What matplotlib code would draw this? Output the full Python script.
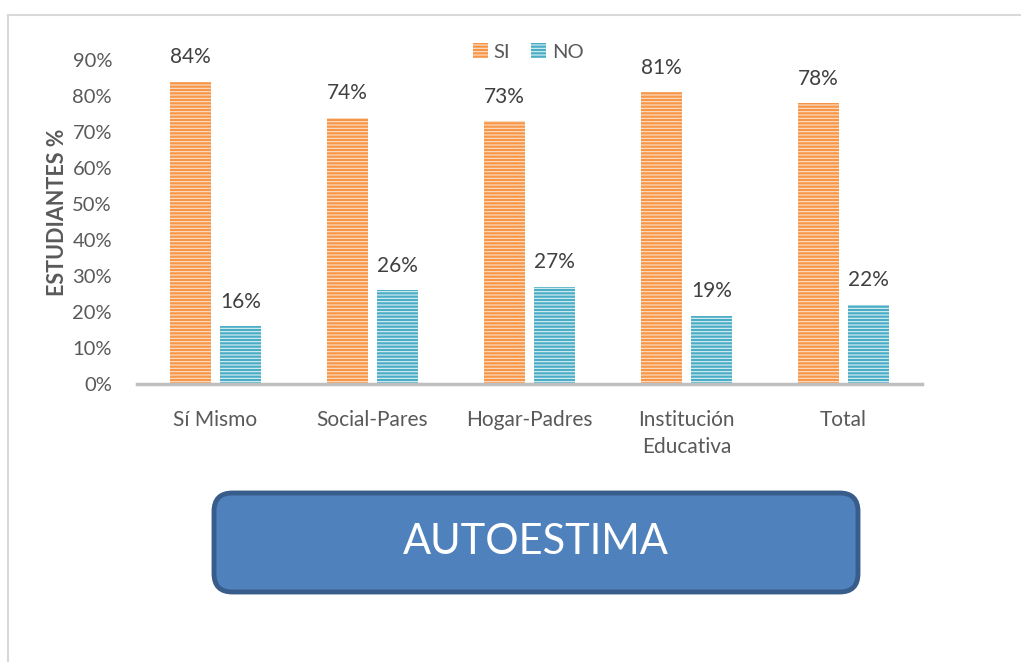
import matplotlib.pyplot as plt
import numpy as np
from matplotlib.patches import FancyBboxPatch, Patch
from matplotlib.lines import Line2D

plt.rcParams['font.family'] = ['Lato', 'DejaVu Sans']
plt.rcParams['hatch.linewidth'] = 0.8

categories = ["Sí Mismo", "Social-Pares", "Hogar-Padres", "Institución\nEducativa", "Total"]
si_vals = [84, 74, 73, 81, 78]
no_vals = [16, 26, 27, 19, 22]
yticks = [0, 10, 20, 30, 40, 50, 60, 70, 80, 90]

orange = "#F79646"
blue = "#4BACC6"
text_col = "#595959"

fig = plt.figure(figsize=(10.21, 6.62), dpi=100)
ax = fig.add_axes([137 / 1021, 1 - 384 / 662, 785 / 1021, 324 / 662])

x = np.arange(len(categories))
w = 0.26
off = 0.159
hatch = "-----"
ax.bar(x - off, si_vals, w, color=orange, edgecolor="#FCE0C8", hatch=hatch, lw=0)
ax.bar(x + off, no_vals, w, color=blue, edgecolor="#DDF1F6", hatch=hatch, lw=0)

for i in range(len(categories)):
    ax.text(x[i] - off, si_vals[i] + 4, f"{si_vals[i]}%", ha="center", va="bottom",
            fontsize=15, color="#404040")
    ax.text(x[i] + off, no_vals[i] + 4, f"{no_vals[i]}%", ha="center", va="bottom",
            fontsize=15, color="#404040")

ax.set_xlim(-0.5, len(categories) - 0.5)
ax.set_ylim(0, 90)
ax.set_yticks(yticks)
ax.set_yticklabels([f"{t}%" for t in yticks], fontsize=14.5, color=text_col)
ax.set_xticks(x)
ax.set_xticklabels(categories, fontsize=15, color=text_col, linespacing=1.4)
ax.tick_params(axis="both", length=0)
ax.tick_params(axis="x", pad=19)
ax.tick_params(axis="y", pad=18)
for s in ["top", "right", "left"]:
    ax.spines[s].set_visible(False)
ax.spines["bottom"].set_color("#BFBFBF")
ax.spines["bottom"].set_linewidth(2.5)
ax.set_ylabel("ESTUDIANTES %", fontsize=15.5, fontweight="bold", color=text_col)
ax.yaxis.set_label_coords(-0.088, 0.53)

handles = [Patch(facecolor=orange, edgecolor="#FCE0C8", hatch=hatch, lw=0),
           Patch(facecolor=blue, edgecolor="#DDF1F6", hatch=hatch, lw=0)]
fig.legend(handles, ["SI", "NO"], loc="center", bbox_to_anchor=(528 / 1021, 1 - 52 / 662),
           ncol=2, frameon=False, handlelength=0.75, handleheight=0.75, handletextpad=0.3,
           columnspacing=1.0, fontsize=14.5, labelcolor=text_col)

# outer frame of the chart area
fig.add_artist(Line2D([8 / 1021, 1], [1 - 15 / 662, 1 - 15 / 662], color="#D9D9D9", lw=1.5))
fig.add_artist(Line2D([8 / 1021, 8 / 1021], [0, 1 - 15 / 662], color="#D9D9D9", lw=1.5))

# AUTOESTIMA box
bx0, by0, bx1, by1 = 214 / 1021, 1 - 592 / 662, 858 / 1021, 1 - 493 / 662
box = FancyBboxPatch((bx0, by0), bx1 - bx0, by1 - by0, transform=fig.transFigure,
                     boxstyle="round,pad=0,rounding_size=0.018", facecolor="#4F81BD",
                     edgecolor="#385D8A", lw=3.5, mutation_aspect=1021 / 662)
fig.add_artist(box)
fig.text((bx0 + bx1) / 2, (by0 + by1) / 2, "AUTOESTIMA", ha="center", va="center",
         fontsize=30, color="white")

fig.savefig("out.png", dpi=100)
